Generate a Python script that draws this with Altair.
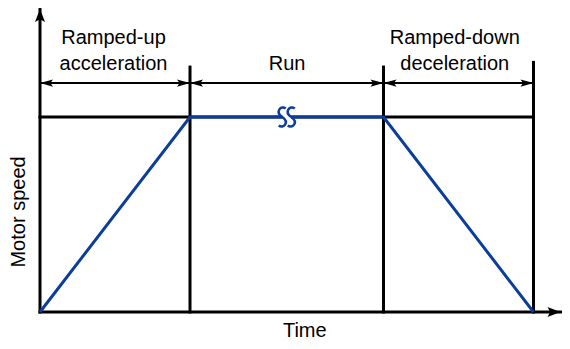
import altair as alt
import pandas as pd

# ---- values (time units / speed units) ----
phase_t = [0.0, 1.0, 2.29, 3.29]          # start of accel, end accel, end run, end decel
profile_speed = [0.0, 1.0, 1.0, 0.0]      # motor speed at those instants
run_speed = 1.0
divider_top = [1.256, 1.256, 1.28]        # tops of the vertical phase dividers
dim_speed = 1.174                         # level of the dimension arrows
axis_t_end = 3.47
axis_speed_end = 1.554
break_t = 1.645                           # position of the break mark on the run segment

label_lines = ["Ramped-up", "acceleration", "Run", "Ramped-down", "deceleration"]
label_t = [0.49, 0.49, 1.647, 2.765, 2.765]
label_speed = [1.374, 1.241, 1.241, 1.374, 1.241]
axis_titles = ["Time", "Motor speed"]
axis_title_t = [1.765, -0.1]
axis_title_speed = [-0.128, 0.513]
axis_title_angle = [0, 270]

BLUE = "#0b3d9a"
FONT = "Liberation Sans"

W, H = 554, 333
xs = alt.Scale(domain=[-32 / 150, -32 / 150 + W / 150], nice=False, zero=False)
ymax = 304 / 195
ys = alt.Scale(domain=[ymax - H / 195, ymax], nice=False, zero=False)

# ---- segments (black) ----
segs = []
segs.append(dict(x=phase_t[0], y=0.0, x2=axis_t_end, y2=0.0, w=3))
segs.append(dict(x=phase_t[0], y=0.0, x2=phase_t[0], y2=axis_speed_end, w=3))
for t, top in zip(phase_t[1:], divider_top):
    segs.append(dict(x=t, y=0.0, x2=t, y2=top, w=3))
segs.append(dict(x=phase_t[0], y=run_speed, x2=phase_t[3], y2=run_speed, w=3))
for a, b in zip(phase_t[:-1], phase_t[1:]):
    segs.append(dict(x=a, y=dim_speed, x2=b, y2=dim_speed, w=2))
seg_df = pd.DataFrame(segs)

rules = alt.Chart(seg_df).mark_rule(color="black", strokeCap="square").encode(
    x=alt.X("x:Q", scale=xs, axis=None),
    y=alt.Y("y:Q", scale=ys, axis=None),
    x2="x2:Q",
    y2="y2:Q",
    strokeWidth=alt.StrokeWidth("w:Q", scale=None),
)

# ---- blue speed profile ----
prof_df = pd.DataFrame({"t": phase_t, "s": profile_speed, "o": range(4)})
profile = alt.Chart(prof_df).mark_line(color=BLUE, strokeWidth=3).encode(
    x=alt.X("t:Q", scale=xs, axis=None),
    y=alt.Y("s:Q", scale=ys, axis=None),
    order="o:Q",
)

# ---- break mark ----
brk_df = pd.DataFrame({"t": [break_t], "s": [run_speed]})
gap = alt.Chart(brk_df).mark_square(size=81, color="white", opacity=1, filled=True).encode(
    x=alt.X("t:Q", scale=xs, axis=None), y=alt.Y("s:Q", scale=ys, axis=None)
)


def s_path(cx):
    return (f"M{cx+0.32:.3f},-0.78 C{cx-0.1:.3f},-1.1 {cx-0.7:.3f},-0.5 {cx:.3f},0 "
            f"C{cx+0.7:.3f},0.5 {cx+0.1:.3f},1.1 {cx-0.32:.3f},0.78")


squiggle_shape = s_path(-0.41) + " " + s_path(0.41)
squiggle = alt.Chart(brk_df).mark_point(
    shape=squiggle_shape, size=484, filled=False, stroke=BLUE, strokeWidth=2.5, opacity=1
).encode(x=alt.X("t:Q", scale=xs, axis=None), y=alt.Y("s:Q", scale=ys, axis=None))

# ---- arrow heads ----
axis_heads = pd.DataFrame({"t": [axis_t_end, 0.0], "s": [0.0, axis_speed_end], "ang": [0, 270]})
dim_rows = []
for a, b in zip(phase_t[:-1], phase_t[1:]):
    dim_rows.append(dict(t=a, s=dim_speed, ang=180))
    dim_rows.append(dict(t=b, s=dim_speed, ang=0))
dim_heads = pd.DataFrame(dim_rows)

axis_arrow = alt.Chart(axis_heads).mark_point(
    shape="M0,0 L-2,-0.77 L-1.6,0 L-2,0.77 Z", size=169, filled=True, color="black", opacity=1
).encode(
    x=alt.X("t:Q", scale=xs, axis=None), y=alt.Y("s:Q", scale=ys, axis=None),
    angle=alt.Angle("ang:Q", scale=None),
)
dim_arrow = alt.Chart(dim_heads).mark_point(
    shape="M0,0 L-2,-0.55 L-1.6,0 L-2,0.55 Z", size=169, filled=True, color="black", opacity=1
).encode(
    x=alt.X("t:Q", scale=xs, axis=None), y=alt.Y("s:Q", scale=ys, axis=None),
    angle=alt.Angle("ang:Q", scale=None),
)

# ---- text ----
lab_df = pd.DataFrame({"txt": label_lines + axis_titles,
                       "t": label_t + axis_title_t,
                       "s": label_speed + axis_title_speed,
                       "ang": [0] * len(label_lines) + axis_title_angle})
texts = alt.Chart(lab_df).mark_text(
    font=FONT, fontSize=20, color="black", align="center", baseline="alphabetic"
).encode(
    x=alt.X("t:Q", scale=xs, axis=None), y=alt.Y("s:Q", scale=ys, axis=None),
    text="txt:N", angle=alt.Angle("ang:Q", scale=None),
)

chart = alt.layer(rules, profile, gap, squiggle, axis_arrow, dim_arrow, texts).properties(
    width=W, height=H, padding=0, autosize="none"
).configure_view(stroke=None)

chart.save("out.html", embed_options={"renderer": "svg", "actions": False})
